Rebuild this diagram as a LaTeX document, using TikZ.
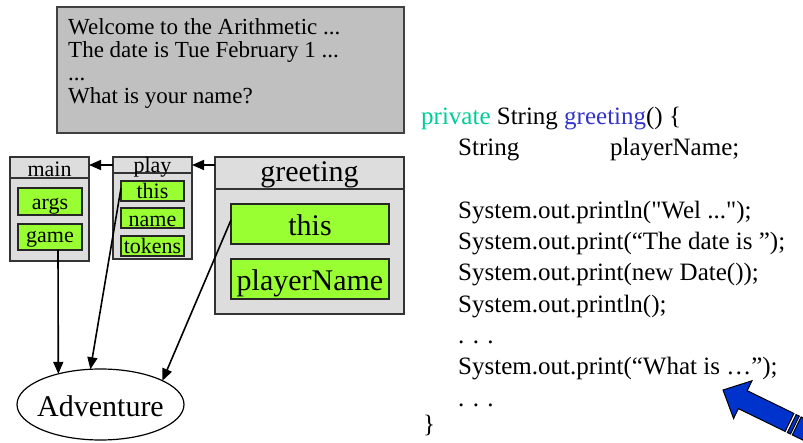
\documentclass[tikz,border=0pt]{standalone}
\usepackage{fontspec}
\setmainfont{Liberation Serif}
\usetikzlibrary{arrows.meta,shapes.geometric}
\definecolor{framegray}{HTML}{DDDDDD}
\definecolor{slotgreen}{HTML}{99FF33}
\definecolor{outgray}{HTML}{C0C0C0}
\definecolor{kwgreen}{HTML}{00CC99}
\definecolor{methblue}{HTML}{3333CC}
\definecolor{bigblue}{HTML}{0033CC}
\newcommand{\fs}[1]{\fontsize{#1}{#1}\selectfont}
\begin{document}
\begin{tikzpicture}[x=1pt,y=-1pt,
  frame/.style={draw=black!80, fill=framegray, line width=1.4pt, inner sep=0pt, outer sep=0pt},
  slot/.style={draw=black!85, fill=slotgreen, line width=1.2pt, inner sep=0pt, outer sep=0pt},
  small/.style={anchor=base, inner sep=0pt, font=\fs{22}},
  big/.style={anchor=base, inner sep=0pt, font=\fs{30}},
  outtxt/.style={anchor=base west, inner sep=0pt, font=\fs{23}},
  code/.style={anchor=base west, inner sep=0pt, font=\fs{25}},
  arr/.style={-{Triangle[length=12pt,width=10pt]}, line width=1.6pt}]
\useasboundingbox (0,0) rectangle (803,443);

% console output
\node[draw=black!75, fill=outgray, line width=1.2pt, inner sep=0pt,
      minimum width=347pt, minimum height=126pt] (out) at (230.5,70) {};
\node[outtxt] (o1) at (68,35)  {Welcome to the Arithmetic ...};
\node[outtxt] (o2) at (68,58)  {The date is Tue February 1 ...};
\node[outtxt] (o3) at (68,81)  {...};
\node[outtxt] (o4) at (68,104) {What is your name?};

% stack frames
\node[frame, minimum width=79pt, minimum height=104pt] (mainF) at (49.5,209) {};
\draw[line width=1.4pt, draw=black!80] ([yshift=-21pt]mainF.north west) -- ([yshift=-21pt]mainF.north east);
\node[small] (mainL) at (49.5,176.5) {main};
\node[slot, minimum width=64pt, minimum height=27pt] (args) at (50,201.5) {};
\node[small] (argsL) at (50,210) {args};
\node[slot, minimum width=64pt, minimum height=26pt] (game) at (50,237) {};
\node[small] (gameL) at (50,242.5) {game};

\node[frame, minimum width=79pt, minimum height=102pt] (playF) at (152.5,208) {};
\draw[line width=1.4pt, draw=black!80] ([yshift=-16pt]playF.north west) -- ([yshift=-16pt]playF.north east);
\node[small] (playL) at (152.5,172.5) {play};
\node[slot, minimum width=63pt, minimum height=20pt] (pthis) at (152.5,191) {};
\node[small] (pthisL) at (152.5,199) {this};
\node[slot, minimum width=63pt, minimum height=20pt] (pname) at (152.5,218) {};
\node[small] (pnameL) at (152.5,227) {name};
\node[slot, minimum width=63pt, minimum height=20pt] (ptok) at (152.5,246) {};
\node[small] (ptokL) at (152.5,254) {tokens};

\node[frame, minimum width=189pt, minimum height=157pt] (greetF) at (309.5,235.5) {};
\draw[line width=1.4pt, draw=black!80] ([yshift=-32pt]greetF.north west) -- ([yshift=-32pt]greetF.north east);
\node[big] (greetL) at (309.5,181.5) {greeting};
\node[slot, minimum width=158pt, minimum height=40pt] (gthis) at (310,224) {};
\node[big] (gthisL) at (310,236) {this};
\node[slot, minimum width=158pt, minimum height=40pt] (gpn) at (310,279) {};
\node[big] (gpnL) at (310,291) {playerName};

% the heap object
\node[ellipse, draw, line width=1.2pt, inner sep=0pt, outer sep=0pt,
      minimum width=167pt, minimum height=71pt] (adv) at (100.5,404.5) {};
\node[big] (advL) at (100.5,416.5) {Adventure};

% frame links
\draw[arr] ([yshift=-8pt]greetF.north west) -- ([yshift=-8pt]playF.north east);
\draw[arr] ([yshift=-8pt]playF.north west) -- ([yshift=-8pt]mainF.north east);

% references to the object
\draw[arr] ([xshift=8pt]game.south) -- (adv.144);
\draw[arr] ([yshift=3pt]pthis.west) -- (adv.106);
\draw[arr] ([yshift=4pt]gthis.west) -- (adv.21);

% source code
\node[code] (c1) at (421,124.5) {\textcolor{kwgreen}{private} String \textcolor{methblue}{greeting}() \{};
\node[code] (c2) at (458,155.8) {\makebox[152pt][l]{String}playerName;};
\node[code] (c4) at (458,218.4) {System.out.println(\textquotedbl Wel ...\textquotedbl);};
\node[code] (c5) at (458,249.7) {System.out.print(“The date is ”);};
\node[code] (c6) at (458,281)   {System.out.print(new Date());};
\node[code] (c7) at (458,312.3) {System.out.println();};
\node[code] (c8) at (458,343.6) {. . .};
\node[code] (c9) at (458,374.9) {System.out.print(“What is …”);};
\node[code] (c10) at (458,406.2) {. . .};
\node[code] (c11) at (423,432) {\}};

% pointer to the current line
\begin{scope}[shift={(723,390)}, rotate=-26, line width=1pt, fill=bigblue]
  \filldraw (0,0) -- (22,-21) -- (22,-10) -- (74,-10) -- (74,10) -- (22,10) -- (22,21) -- cycle;
  \filldraw (76.5,-10) rectangle (80,10);
  \filldraw (82,-10) rectangle (120,10);
\end{scope}
\end{tikzpicture}
\end{document}
